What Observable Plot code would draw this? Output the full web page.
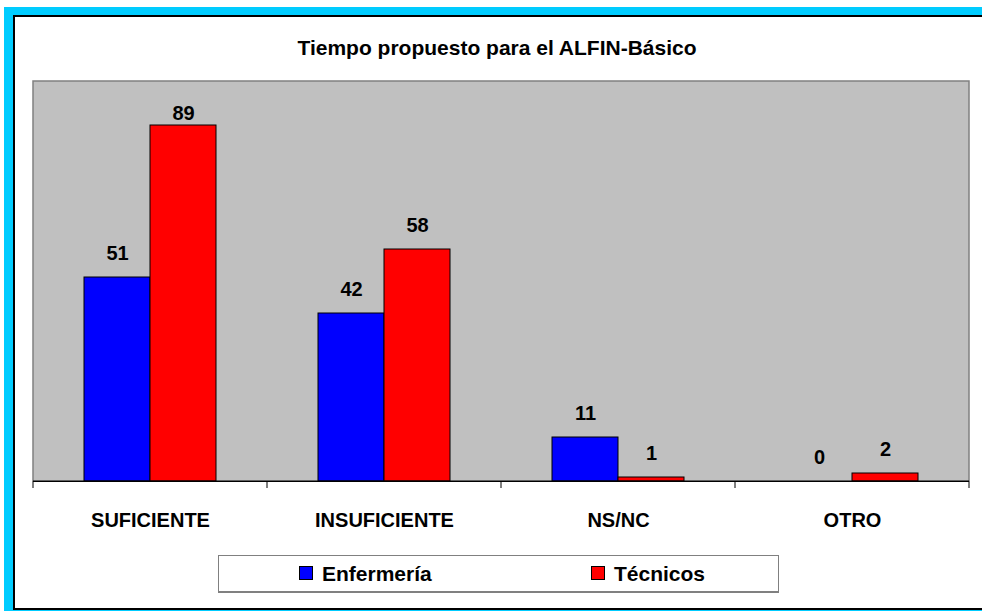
<!DOCTYPE html>
<html>
<head>
<meta charset="utf-8">
<script src="https://cdn.jsdelivr.net/npm/d3@7"></script>
<script src="https://cdn.jsdelivr.net/npm/@observablehq/plot@0.6"></script>
<style>
  html, body { margin: 0; padding: 0; background: #ffffff; }
  body { width: 982px; height: 611px; position: relative; overflow: hidden;
         font-family: "Liberation Sans", Arial, sans-serif; font-weight: bold; color: #000; }
  #cyan { position: absolute; left: 4px; top: 7px; right: 0; bottom: 0; background: #00CCFF; }
  #panel { position: absolute; left: 13px; top: 15px; width: 990px; height: 591px;
           background: #fff; border: 2px solid #000; }
  #title { position: absolute; left: 6px; width: 982px; top: 36px; line-height: 23px;
           text-align: center; font-size: 21px; }
  #chart { position: absolute; left: 0; top: 60px; }
  #legend { position: absolute; left: 218px; top: 555px; width: 559px; height: 35px;
            border: 1px solid #808080; border-bottom-width: 2px; background: #fff; }
  .item { position: absolute; top: 0; height: 35px; line-height: 35px; font-size: 21px; white-space: nowrap; }
  .sw { display: inline-block; width: 12px; height: 12px; border: 1px solid #000; margin-right: 9px;
        vertical-align: middle; position: relative; top: -2px; }
</style>
</head>
<body>
<div id="cyan"></div>
<div id="panel"></div>
<div id="title">Tiempo propuesto para el ALFIN-Básico</div>
<div id="chart"></div>
<div id="legend"></div>
<script>
const categories = ["SUFICIENTE", "INSUFICIENTE", "NS/NC", "OTRO"];
const series = ["Enfermería", "Técnicos"];
const enfermeria = [51, 42, 11, 0];
const tecnicos = [89, 58, 1, 2];
const seriesColors = ["#0000FF", "#FF0000"];
const yTicks = [0, 100];

const data = categories.flatMap((c, i) => [
  {category: c, series: series[0], value: enfermeria[i]},
  {category: c, series: series[1], value: tecnicos[i]}
]);

const chart = Plot.plot({
  width: 982,
  height: 480,
  marginLeft: 32,
  marginRight: 12,
  marginTop: 21,
  marginBottom: 59,
  style: {fontFamily: "'Liberation Sans', Arial, sans-serif", fontSize: "20px", fontWeight: "bold",
          background: "transparent", overflow: "visible", color: "#000"},
  fx: {domain: categories, padding: 0, label: null, axis: "bottom", tickSize: 0, tickPadding: 31},
  x: {domain: series, paddingInner: 0, paddingOuter: 0.75, axis: null},
  y: {domain: yTicks, axis: null},
  color: {domain: series, range: seriesColors},
  marks: [
    Plot.barY(data.filter(d => d.value > 0), {fx: "category", x: "series", y: "value", fill: "series",
      stroke: "#000", strokeWidth: 1}),
    Plot.text(data, {fx: "category", x: "series", y: d => Math.min(d.value, 86), dy: -24,
      text: d => String(d.value), fill: "#000"}),
    Plot.ruleY([0], {stroke: "#000"})
  ]
});
document.getElementById("chart").appendChild(chart);

// Plot-area background, border and category boundary ticks drawn from the library's scales
const fx = chart.scale("fx");
const y = chart.scale("y");
const svg = d3.select(chart);
const edges = categories.map(c => fx.apply(c)).concat([fx.apply(categories[categories.length - 1]) + fx.bandwidth]);
const y0 = y.apply(0), yTop = y.apply(yTicks[1]);
const xs = edges[0], xe = edges[edges.length - 1];
svg.insert("rect", ":first-child")
  .attr("x", xs).attr("y", yTop).attr("width", xe - xs).attr("height", y0 - yTop)
  .attr("fill", "#C0C0C0");
svg.append("path")
  .attr("d", `M${xs},${y0}V${yTop}H${xe}V${y0}`)
  .attr("fill", "none").attr("stroke", "#808080").attr("stroke-width", 1.5);
svg.append("g").selectAll("line").data(edges).join("line")
  .attr("x1", d => d).attr("x2", d => d)
  .attr("y1", y0).attr("y2", y0 + 7)
  .attr("stroke", "#000");
svg.append("line").attr("x1", xs).attr("x2", xe).attr("y1", y0).attr("y2", y0).attr("stroke", "#000");

// Legend
const legend = document.getElementById("legend");
const legendLeft = [80, 372];
series.forEach((s, i) => {
  const item = document.createElement("div");
  item.className = "item";
  item.style.left = legendLeft[i] + "px";
  item.innerHTML = `<span class="sw" style="background:${seriesColors[i]}"></span>${s}`;
  legend.appendChild(item);
});
</script>
</body>
</html>
